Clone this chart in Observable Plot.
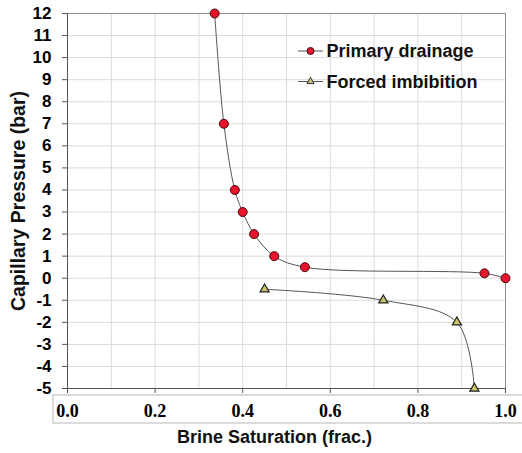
<!DOCTYPE html>
<html><head><meta charset="utf-8">
<script src="https://cdn.jsdelivr.net/npm/d3@7"></script>
<script src="https://cdn.jsdelivr.net/npm/@observablehq/plot@0.6"></script>
<style>body{margin:0;background:#fff} #chart{width:522px;height:453px}</style>
</head><body><div id="chart"></div>
<script>
const seriesNames = ["Primary drainage", "Forced imbibition"];
const drainageSw = [0.336, 0.357, 0.382, 0.400, 0.426, 0.472, 0.542, 0.952, 1.0];
const drainagePc = [12, 7, 4, 3, 2, 1, 0.5, 0.22, 0];
const imbibitionSw = [0.450, 0.721, 0.889, 0.929];
const imbibitionPc = [-0.5, -1, -2, -5];
const xTicks = [0, 0.2, 0.4, 0.6, 0.8, 1.0];
const xTickLabels = ["0.0", "0.2", "0.4", "0.6", "0.8", "1.0"];
const xGrid = [0, 0.1, 0.2, 0.3, 0.4, 0.5, 0.6, 0.7, 0.8, 0.9, 1.0];
const yTicks = [-5, -4, -3, -2, -1, 0, 1, 2, 3, 4, 5, 6, 7, 8, 9, 10, 11, 12];
const yTickLabels = ["-5", "-4", "-3", "-2", "-1", "0", "1", "2", "3", "4", "5", "6", "7", "8", "9", "10", "11", "12"];
const xTitle = "Brine Saturation (frac.)";
const yTitle = "Capillary Pressure (bar)";

const drainage = drainageSw.map((x, i) => ({x, y: drainagePc[i]}));
const imbibition = imbibitionSw.map((x, i) => ({x, y: imbibitionPc[i]}));

const sans = "'Liberation Sans', Arial, sans-serif";
const serif = "'Liberation Serif', 'Times New Roman', serif";
const redFill = "#e8132d", triFill = "#c9c46a";

const svg = Plot.plot({
  width: 522, height: 453,
  marginLeft: 67, marginRight: 17, marginTop: 13, marginBottom: 65,
  x: {domain: [0, 1]},
  y: {domain: [-5, 12]},
  style: {fontFamily: sans, background: "white", overflow: "visible", color: "#000"},
  marks: [
    Plot.gridX(xGrid, {stroke: "#dadada", strokeOpacity: 1}),
    Plot.gridY(yTicks, {stroke: "#dadada", strokeOpacity: 1}),
    Plot.frame({stroke: "#8f8f8f"}),
    Plot.axisY(yTicks, {tickSize: 5, tickPadding: 11, fontSize: 17, fontWeight: "bold", label: null, stroke: "#555",
      tickFormat: (d, i) => yTickLabels[i]}),
    Plot.axisX(xTicks, {tickSize: 5, tickPadding: 11, fontSize: 18, fontWeight: "bold", fontFamily: serif,
      tickFormat: (d, i) => xTickLabels[i], label: null, stroke: "#555"}),
    Plot.ruleX([0], {stroke: "#555"}),
    Plot.ruleY([-5], {stroke: "#555"}),
    Plot.line(drainage, {x: "x", y: "y", curve: "catmull-rom", stroke: "#555", strokeWidth: 1}),
    Plot.line(imbibition, {x: "x", y: "y", curve: "catmull-rom", stroke: "#555", strokeWidth: 1}),
    Plot.dot(drainage, {x: "x", y: "y", r: 4.5, fill: redFill, stroke: "#4a0a0a", strokeWidth: 1}),
    Plot.dot(imbibition, {x: "x", y: "y", r: 3.4, symbol: "triangle", fill: triFill, stroke: "#222", strokeWidth: 1.2}),
    Plot.text([yTitle], {frameAnchor: "left", dx: -49, rotate: -90, textAnchor: "middle", lineAnchor: "middle",
      fontSize: 19.5, fontWeight: "bold", fill: "#111"}),
    Plot.text([xTitle], {frameAnchor: "bottom", dy: 49, dx: -12, textAnchor: "middle", lineAnchor: "middle",
      fontSize: 18, fontWeight: "bold", fill: "#111"})
  ]
});

const s = d3.select(svg);
// box around the x tick labels
s.insert("rect", ":first-child")
  .attr("x", 53).attr("y", 395).attr("width", 475).attr("height", 28)
  .attr("fill", "white").attr("stroke", "#c4c4c4").attr("stroke-width", 1.2);

// legend
const lg = s.append("g").attr("font-family", sans).attr("font-size", 18).attr("font-weight", "bold")
  .attr("text-anchor", "start");
seriesNames.forEach((name, i) => {
  const y = 51 + i * 30.5;
  lg.append("line").attr("x1", 298).attr("x2", 323).attr("y1", y).attr("y2", y).attr("stroke", "#555");
  if (i === 0) {
    lg.append("circle").attr("cx", 310.5).attr("cy", y).attr("r", 3.5).attr("fill", redFill).attr("stroke", "#4a0a0a");
  } else {
    lg.append("path").attr("transform", `translate(310.5,${y})`)
      .attr("d", d3.symbol(d3.symbolTriangle, 22)()).attr("fill", triFill).attr("stroke", "#333");
  }
  lg.append("text").attr("x", 326.5).attr("y", y).attr("dy", "0.35em").attr("text-anchor", "start")
    .attr("fill", "#111").text(name);
});

document.getElementById("chart").appendChild(svg);
</script>
</body></html>
